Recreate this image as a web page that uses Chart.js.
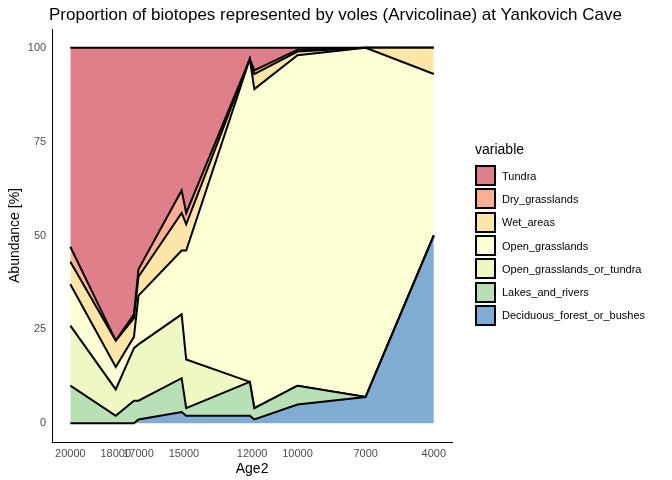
<!DOCTYPE html>
<html>
<head>
<meta charset="utf-8">
<script src="https://cdn.jsdelivr.net/npm/chart.js@4/dist/chart.umd.min.js"></script>
<style>
  body { margin: 0; background: #fff; font-family: 'Liberation Sans', Arial, sans-serif; }
  #wrap { position: relative; width: 672px; height: 480px; }
  #title { position: absolute; left: 49px; top: 5px; font-size: 17px; color: #000; white-space: nowrap; }
  #legend { position: absolute; left: 475px; top: 141px; }
  #legend .lt { font-size: 14px; margin-bottom: 7px; }
  #legend .it { display: flex; align-items: center; height: 23.3px; font-size: 11px; }
  #legend .bx { width: 17px; height: 17px; border: 2px solid #000; margin-right: 6px; box-sizing: content-box; }
</style>
</head>
<body>
<div id="wrap">
  <canvas id="chart"></canvas>
  <div id="title">Proportion of biotopes represented by voles (Arvicolinae) at Yankovich Cave</div>
  <div id="legend"></div>
</div>
<script>
// ages (years BP) and proportions per biotope, bottom of the stack first
const ages = [20000, 18000, 17200, 17000, 15100, 14900, 12100, 11900, 10000, 7000, 4000];
const deciduous = [0, 0, 0, 1, 3, 2, 2, 1, 5, 7, 50];
const lakes = [10, 2, 6, 5, 9, 2, 9, 3, 5, 0, 0];
const openOrTundra = [16, 7, 14, 15, 17, 13, 0, 0, 0, 0, 0];
const openGrass = [11, 6, 3, 13, 17, 29, 86, 85, 88, 93, 43];
const wetAreas = [6, 7, 5, 5, 10, 7, 0, 4, 1, 0, 7];
const dryGrass = [4, 0, 1, 2, 6, 3, 0, 1, 0.5, 0, 0];
const tundra = [53, 78, 71, 59, 38, 44, 3, 6, 0.5, 0, 0];
const xTicks = [20000, 18000, 17000, 15000, 12000, 10000, 7000, 4000];
const yTicks = [0, 25, 50, 75, 100];

const series = [
  ['Deciduous_forest_or_bushes', deciduous, '#80abd2'],
  ['Lakes_and_rivers', lakes, '#b8e0b4'],
  ['Open_grasslands_or_tundra', openOrTundra, '#eef8c2'],
  ['Open_grasslands', openGrass, '#ffffd6'],
  ['Wet_areas', wetAreas, '#fee6a8'],
  ['Dry_grasslands', dryGrass, '#fbb093'],
  ['Tundra', tundra, '#de7f8a']
];

const datasets = series.map(([name, vals, col], i) => ({
  label: name,
  data: ages.map((a, j) => ({ x: a, y: vals[j] })),
  backgroundColor: col,
  borderColor: '#000',
  borderWidth: 2,
  pointRadius: 0,
  tension: 0,
  fill: i === 0 ? 'origin' : '-1'
}));

// legend in ggplot order (top of stack first)
const legend = document.getElementById('legend');
legend.innerHTML = '<div class="lt">variable</div>' +
  series.slice().reverse().map(([name, , col]) =>
    `<div class="it"><div class="bx" style="background:${col}"></div>${name}</div>`).join('');

const font = { family: 'Liberation Sans, Arial', size: 11 };

new Chart(document.getElementById('chart'), {
  type: 'line',
  data: { datasets },
  options: {
    responsive: true,
    maintainAspectRatio: false,
    animation: false,
    layout: { padding: { left: 3, right: 220, top: 29, bottom: 2 } },
    plugins: { legend: { display: false }, tooltip: { enabled: false } },
    scales: {
      x: {
        type: 'linear',
        reverse: true,
        min: 3200,
        max: 20800,
        grid: { display: false, drawTicks: true, tickLength: 4, tickColor: '#333' },
        border: { color: '#000', width: 1 },
        afterBuildTicks: s => { s.ticks = xTicks.map(v => ({ value: v })); },
        ticks: { autoSkip: false, maxRotation: 0, color: '#4d4d4d', font, padding: 1, callback: v => String(v) },
        title: { display: true, text: 'Age2', color: '#000', font: { family: 'Liberation Sans, Arial', size: 14 }, padding: { top: 0, bottom: 0 } }
      },
      y: {
        stacked: true,
        min: -5,
        max: 105,
        grid: { display: false, drawTicks: true, tickLength: 4, tickColor: '#333' },
        border: { color: '#000', width: 1 },
        afterBuildTicks: s => { s.ticks = yTicks.map(v => ({ value: v })); },
        ticks: { color: '#4d4d4d', font, padding: 2 },
        title: { display: true, text: 'Abundance [%]', color: '#000', font: { family: 'Liberation Sans, Arial', size: 14 }, padding: { bottom: 2 } }
      }
    }
  }
});
</script>
</body>
</html>
